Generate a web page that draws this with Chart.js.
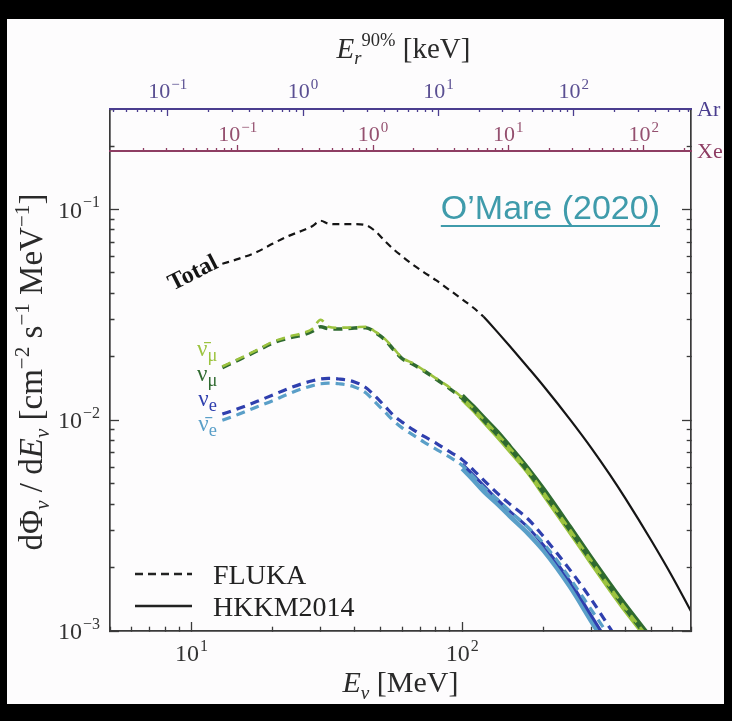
<!DOCTYPE html>
<html>
<head>
<meta charset="utf-8">
<script src="https://cdn.jsdelivr.net/npm/chart.js@4.4.1/dist/chart.umd.min.js"></script>
<style>
  html, body { margin: 0; padding: 0; background: #000; }
  canvas { display: block; }
</style>
</head>
<body>
<canvas id="flux" width="732" height="721"></canvas>
<script>
// atmospheric neutrino flux, dPhi/dE [cm^-2 s^-1 MeV^-1] vs E_nu [MeV]
const energyFluka = [13, 15, 17.5, 20, 23, 26, 28, 30, 32, 35, 40, 44, 48, 52, 56, 60, 66, 72, 80, 88,
  100, 110, 120, 135, 150, 175, 200, 250, 300, 350, 400, 500, 600];
const totalFluka = [0.0553, 0.0585, 0.0630, 0.0690, 0.0752, 0.0800, 0.0835, 0.0885, 0.0858, 0.0852, 0.0852,
  0.0843, 0.0785, 0.0705, 0.0645, 0.0600, 0.0545, 0.0505, 0.0462, 0.0423, 0.0375, 0.0342, 0.0310,
  null, null, null, null, null, null, null, null, null, null];
const numuFluka = [0.0178, 0.0194, 0.0214, 0.0233, 0.0246, 0.0255, 0.0265, 0.0278, 0.0272, 0.0271, 0.0274,
  0.0275, 0.0260, 0.0240, 0.0215, 0.0196, 0.0184, 0.0172, 0.0157, 0.0144, 0.0127, 0.0113, 0.0100,
  0.0085, 0.0073, 0.0057, 0.0045, 0.0030, 0.00214, 0.00162, 0.00128, 0.00088, 0.00065];
const numubarFluka = [0.0180, 0.0196, 0.0216, 0.0236, 0.0250, 0.0260, 0.0272, 0.0300, 0.0278, 0.0275, 0.0276,
  0.0278, 0.0262, 0.0242, 0.0218, 0.0198, 0.0186, 0.0173, 0.0158, 0.0146, 0.0128, 0.0114, 0.0101,
  0.0086, 0.0074, 0.0058, 0.00455, 0.00303, 0.00216, 0.00163, 0.00129, 0.00089, 0.00066];
const nueFluka = [0.0107, 0.0114, 0.0123, 0.0132, 0.0142, 0.0150, 0.0154, 0.0157, 0.0158, 0.0157, 0.0152,
  0.0143, 0.0129, 0.0116, 0.0105, 0.0098, 0.0090, 0.0084, 0.0078, 0.0072, 0.0065, 0.0058, 0.0052,
  0.0045, 0.0040, 0.0034, 0.0028, 0.00195, 0.00141, 0.00104, 0.0008, 0.0005, 0.00033];
const nuebarFluka = [0.0100, 0.0107, 0.0116, 0.0124, 0.0134, 0.0142, 0.0146, 0.0149, 0.0150, 0.0149, 0.0144,
  0.0135, 0.0121, 0.0109, 0.0099, 0.0092, 0.0085, 0.0079, 0.0073, 0.0068, 0.0061, 0.0054, 0.0048,
  0.0042, 0.0037, 0.0031, 0.0026, 0.00178, 0.00126, 0.00094, 0.00072, 0.00045, 0.0003];

const energyHkkm = [100, 110, 120, 135, 150, 175, 200, 250, 300, 350, 400, 500, 600, 700];
const totalHkkm = [null, null, 0.0310, 0.0262, 0.02245, 0.0178, 0.0145, 0.0101, 0.00738, 0.00555, 0.00427, 0.00268, 0.00179, 0.00124];
const numuHkkm = [0.0131, 0.0116, 0.0103, 0.0088, 0.0075, 0.0059, 0.0047, 0.00312, 0.00222, 0.00168, 0.00133, 0.00092, 0.00068, 0.00052];
const numubarHkkm = [0.0125, 0.0111, 0.0098, 0.0083, 0.0071, 0.0056, 0.0044, 0.00292, 0.00208, 0.00157, 0.00124, 0.00086, 0.00063, 0.00049];
const nueHkkm = [0.0062, 0.0055, 0.0049, 0.0042, 0.0037, 0.0031, 0.00255, 0.00172, 0.00118, 0.00086, 0.00065, 0.0004, 0.00026, 0.00018];
const nuebarHkkm = [0.0059, 0.0052, 0.0046, 0.0040, 0.0035, 0.0029, 0.0024, 0.00162, 0.00111, 0.00081, 0.00061, 0.00038, 0.00025, 0.00017];

// axis ranges: E_nu [MeV], flux, and the 90% recoil energy [keV] for argon and xenon
const energyRange = [5, 700];
const fluxRange = [0.001, 0.3];
const argonRange = [0.0375, 735];
const xenonRange = [0.0114, 223.5];
const xenonLevel = 0.19;

const SERIF = '"Liberation Serif", "DejaVu Serif", serif';
const BLACK = '#151515';
const FRAME = '#3a3a3a';
const GREEN_LIGHT = '#9cc33f';
const GREEN_DARK = '#2f6a30';
const BLUE = '#2f3fae';
const BLUE_LIGHT = '#5a9fc8';
const ARGON = '#4a3d8f';
const XENON = '#8e3d63';

function isDecade(v) {
  const l = Math.log10(v);
  return Math.abs(l - Math.round(l)) < 1e-6;
}

// 1..9 x 10^n ticks across the scale range
function setLogTicks(scale) {
  const ticks = [];
  const lo = Math.floor(Math.log10(scale.min));
  const hi = Math.ceil(Math.log10(scale.max));
  for (let e = lo; e <= hi; e++) {
    for (let m = 1; m < 10; m++) {
      const v = m * Math.pow(10, e);
      if (v >= scale.min * 0.9999 && v <= scale.max * 1.0001) ticks.push({value: v});
    }
  }
  scale.ticks = ticks;
}

// minor ticks are shortened with a dash pattern
function minorDash(pattern) {
  return (c) => (c.tick && !isDecade(c.tick.value)) ? pattern : [];
}

function logAxis(extra, range, tickLength, color, dash) {
  return Object.assign({
    type: 'logarithmic', min: range[0], max: range[1],
    afterBuildTicks: setLogTicks,
    grid: {drawOnChartArea: false, tickLength: tickLength, tickWidth: 1.3, tickColor: color, tickBorderDash: minorDash(dash)},
    border: {color: color, width: color === FRAME ? 1.7 : 2, z: 1},
    ticks: {display: false, autoSkip: false}
  }, extra);
}

function series(label, xs, ys, color, width, dash) {
  return {
    label: label,
    data: xs.map((x, i) => ({x: x, y: ys[i]})),
    borderColor: color,
    borderWidth: width,
    borderDash: dash,
    borderJoinStyle: 'round',
    pointRadius: 0,
    fill: false,
    cubicInterpolationMode: 'monotone'
  };
}

// text with italic / sub / superscript pieces
function drawRich(ctx, parts, x, y, size, align, subRatio) {
  const ratio = subRatio || 0.64;
  const fontFor = (k) => {
    const small = k.indexOf('sub') >= 0 || k.indexOf('sup') >= 0;
    const italic = k.indexOf('i') === 0;
    return (italic ? 'italic ' : '') + (small ? size * ratio : size) + 'px ' + SERIF;
  };
  let w = 0;
  parts.forEach(p => { ctx.font = fontFor(p[1]); w += ctx.measureText(p[0]).width; });
  let cx = align === 'left' ? x : x - w / 2;
  ctx.textAlign = 'left';
  parts.forEach(p => {
    ctx.font = fontFor(p[1]);
    let dy = 0;
    if (p[1].indexOf('sub') >= 0) dy = size * 0.22;
    if (p[1].indexOf('sup') >= 0) dy = -size * 0.4;
    ctx.fillText(p[0], cx, y + dy);
    cx += ctx.measureText(p[0]).width;
  });
}

// "10^n" labels at the decade ticks of a scale
function drawPowers(ctx, scale, size, color, place) {
  ctx.fillStyle = color;
  ctx.textAlign = 'left';
  ctx.textBaseline = 'alphabetic';
  const small = Math.round(size * 0.66);
  scale.ticks.forEach(t => {
    if (!isDecade(t.value)) return;
    const p = scale.getPixelForValue(t.value);
    const e = String(Math.round(Math.log10(t.value))).replace('-', '\u2212');
    ctx.font = size + 'px ' + SERIF;
    const wb = ctx.measureText('10').width;
    ctx.font = small + 'px ' + SERIF;
    const we = ctx.measureText(e).width;
    const at = place(p, wb + we + 1);
    ctx.font = size + 'px ' + SERIF;
    ctx.fillText('10', at[0], at[1]);
    ctx.font = small + 'px ' + SERIF;
    ctx.fillText(e, at[0] + wb + 1, at[1] - size * 0.42);
  });
}

const decor = {
  id: 'decor',
  beforeDraw(chart) {
    const ctx = chart.ctx;
    ctx.save();
    ctx.fillStyle = '#000';
    ctx.fillRect(0, 0, chart.width, chart.height);
    ctx.fillStyle = '#fdfcfd';
    ctx.fillRect(7, 19, 717, 685);
    ctx.restore();
  },
  afterDraw(chart) {
    const ctx = chart.ctx;
    const ca = chart.chartArea;
    const s = chart.scales;
    const sx = s.x;
    const sy = s.y;
    const midX = (ca.left + ca.right) / 2;
    const xeY = sy.getPixelForValue(xenonLevel);
    ctx.save();

    // tick labels
    drawPowers(ctx, sx, 24, '#333', (p, w) => [p - w / 2, ca.bottom + 30]);
    drawPowers(ctx, sy, 24, '#333', (p, w) => [ca.left - 10 - w, p + 8]);
    drawPowers(ctx, s.xAr, 22, '#5a4f92', (p, w) => [p - w / 2, ca.top - 11]);
    drawPowers(ctx, s.xXe, 22, '#94506f', (p, w) => [p - w / 2, xeY - 10]);

    // axis titles
    ctx.textBaseline = 'alphabetic';
    ctx.fillStyle = '#2a2a2a';
    drawRich(ctx, [['E', 'i'], ['\u03BD', 'isub'], [' [MeV]', '']], midX, 692, 30);
    drawRich(ctx, [['E', 'i'], ['r', 'isub'], ['90%', 'sup'], [' [keV]', '']], midX + 3, 58, 29);

    ctx.save();
    ctx.translate(42, (ca.top + ca.bottom) / 2 + 2);
    ctx.rotate(-Math.PI / 2);
    drawRich(ctx, [['d\u03A6', ''], ['\u03BD', 'isub'], [' / d', ''], ['E', 'i'], ['\u03BD', 'isub'],
      [' [cm', ''], ['\u22122', 'sup'], [' s', ''], ['\u22121', 'sup'], [' MeV', ''], ['\u22121', 'sup'], [']', '']],
      0, 0, 33);
    ctx.restore();

    // recoil axes names
    ctx.font = '22px ' + SERIF;
    ctx.textAlign = 'left';
    ctx.textBaseline = 'middle';
    ctx.fillStyle = ARGON;
    ctx.fillText('Ar', ca.right + 6, ca.top + 1);
    ctx.fillStyle = XENON;
    ctx.fillText('Xe', ca.right + 6, xeY + 1);

    // curve names
    ctx.textBaseline = 'alphabetic';
    const names = [
      {parts: [['\u03BD\u0304', ''], ['\u03BC', 'sub']], color: GREEN_LIGHT, at: [10.48, 0.0201]},
      {parts: [['\u03BD', ''], ['\u03BC', 'sub']], color: GREEN_DARK, at: [10.48, 0.0153]},
      {parts: [['\u03BD', ''], ['e', 'sub']], color: BLUE, at: [10.6, 0.01165]},
      {parts: [['\u03BD\u0304', ''], ['e', 'sub']], color: BLUE_LIGHT, at: [10.6, 0.0089]}
    ];
    names.forEach(n => {
      ctx.fillStyle = n.color;
      drawRich(ctx, n.parts, sx.getPixelForValue(n.at[0]), sy.getPixelForValue(n.at[1]), 23, 'left', 0.8);
    });

    ctx.save();
    ctx.translate(sx.getPixelForValue(10.4), sy.getPixelForValue(0.0468));
    ctx.rotate(-27 * Math.PI / 180);
    ctx.font = 'bold 24px ' + SERIF;
    ctx.textAlign = 'center';
    ctx.fillStyle = BLACK;
    ctx.fillText('Total', 0, 0);
    ctx.restore();

    // legend
    ctx.strokeStyle = '#222';
    ctx.lineWidth = 2.4;
    ctx.setLineDash([8, 5]);
    ctx.beginPath();
    ctx.moveTo(ca.left + 25, 574);
    ctx.lineTo(ca.left + 82, 574);
    ctx.stroke();
    ctx.setLineDash([]);
    ctx.beginPath();
    ctx.moveTo(ca.left + 25, 606);
    ctx.lineTo(ca.left + 82, 606);
    ctx.stroke();
    ctx.fillStyle = '#222';
    ctx.font = '28px ' + SERIF;
    ctx.textAlign = 'left';
    ctx.fillText('FLUKA', ca.left + 103, 584);
    ctx.fillText('HKKM2014', ca.left + 103, 616);

    // reference tag
    ctx.font = '34px "Liberation Sans", Arial, sans-serif';
    ctx.fillStyle = '#3f9bab';
    ctx.textAlign = 'right';
    const tag = 'O\u2019Mare (2020)';
    const tw = ctx.measureText(tag).width;
    ctx.fillText(tag, 660, 219);
    ctx.fillRect(660 - tw, 225, tw, 2);
    ctx.restore();
  }
};

new Chart(document.getElementById('flux'), {
  type: 'line',
  data: {
    datasets: [
      series('anti-nu_mu FLUKA', energyFluka, numubarFluka, GREEN_LIGHT, 2.6, [9, 6]),
      series('nu_mu FLUKA', energyFluka, numuFluka, GREEN_DARK, 3.6, [9, 6]),
      series('nu_e FLUKA', energyFluka, nueFluka, BLUE, 3.2, [9, 6]),
      series('anti-nu_e FLUKA', energyFluka, nuebarFluka, BLUE_LIGHT, 3.2, [9, 6]),
      series('Total FLUKA', energyFluka, totalFluka, BLACK, 2.2, [7, 5]),
      series('Total HKKM2014', energyHkkm, totalHkkm, BLACK, 2.2, []),
      series('anti-nu_mu HKKM2014', energyHkkm, numubarHkkm, GREEN_LIGHT, 3.4, []),
      series('nu_mu HKKM2014', energyHkkm, numuHkkm, GREEN_DARK, 4.5, []),
      series('nu_e HKKM2014', energyHkkm, nueHkkm, BLUE, 3, []),
      series('anti-nu_e HKKM2014', energyHkkm, nuebarHkkm, BLUE_LIGHT, 4.5, [])
    ]
  },
  options: {
    responsive: false,
    animation: false,
    events: [],
    layout: {padding: {left: 0, right: 41, top: 0, bottom: 0}},
    plugins: {legend: {display: false}, tooltip: {enabled: false}},
    scales: {
      x: logAxis({position: 'bottom', afterFit: (sc) => { sc.height = 90; }},
        energyRange, -9, FRAME, [5, 40]),
      y: logAxis({position: 'left', afterFit: (sc) => { sc.width = 110; }},
        fluxRange, -9, FRAME, [0, 4.5, 5, 40]),
      yRight: logAxis({axis: 'y', position: 'right', afterFit: (sc) => { sc.width = 0; }},
        fluxRange, -9, FRAME, [5, 40]),
      xAr: logAxis({axis: 'x', position: 'top', afterFit: (sc) => { sc.height = 109; }},
        argonRange, -7, ARGON, [0, 4, 4, 40]),
      xXe: logAxis({axis: 'x', position: {y: xenonLevel}, afterFit: (sc) => { sc.height = 0; }},
        xenonRange, -7, XENON, [4, 40])
    }
  },
  plugins: [decor]
});
</script>
</body>
</html>
